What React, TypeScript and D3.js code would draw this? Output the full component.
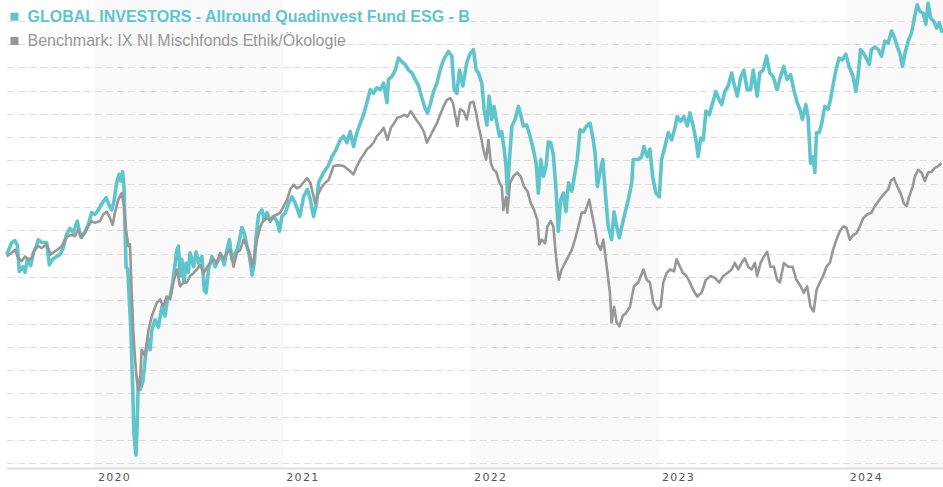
import * as d3 from "d3";
import React, { RefObject, useEffect, useRef } from "react";

const fundName = "GLOBAL INVESTORS - Allround Quadinvest Fund ESG - B";
const benchName = "Benchmark: IX NI Mischfonds Ethik/Ökologie";
const yearLabels = ["2020", "2021", "2022", "2023", "2024"];
const shadedYears = [2020, 2022, 2024];
const gridValues = d3.range(77.5, 125.01, 2.5);
const startYear = 2019.537;
const endYear = 2024.511;

// [decimal year, indexed value]
const fund: [number, number][] = [
  [2019.530, 99.9], [2019.557, 101.2], [2019.574, 101.4], [2019.587, 100.9], [2019.597, 98.1], [2019.615, 98.6],
  [2019.628, 98.0], [2019.640, 99.4], [2019.658, 98.7], [2019.672, 100.1], [2019.686, 100.6], [2019.698, 101.5],
  [2019.716, 101.2], [2019.743, 101.2], [2019.757, 98.8], [2019.775, 99.4], [2019.796, 99.7], [2019.814, 99.9],
  [2019.831, 100.6], [2019.849, 102.1], [2019.867, 102.7], [2019.885, 102.3], [2019.906, 103.5], [2019.924, 101.8],
  [2019.947, 102.3], [2019.964, 103.1], [2019.982, 104.4], [2020.000, 104.2], [2020.018, 104.7], [2020.032, 105.2],
  [2020.044, 105.6], [2020.059, 106.0], [2020.071, 105.4], [2020.089, 104.7], [2020.101, 105.6], [2020.115, 107.6],
  [2020.128, 108.5], [2020.137, 107.8], [2020.147, 108.8], [2020.154, 107.2], [2020.165, 98.6], [2020.174, 98.3],
  [2020.190, 92.2], [2020.201, 85.1], [2020.207, 80.8], [2020.213, 79.3], [2020.218, 78.4], [2020.225, 82.2],
  [2020.230, 86.5], [2020.239, 85.4], [2020.254, 86.2], [2020.266, 88.6], [2020.275, 90.1], [2020.284, 90.8],
  [2020.293, 89.7], [2020.302, 91.8], [2020.319, 92.9], [2020.337, 92.1], [2020.355, 94.3], [2020.372, 93.3],
  [2020.385, 95.1], [2020.399, 95.4], [2020.413, 96.9], [2020.426, 99.0], [2020.435, 100.4], [2020.443, 100.8],
  [2020.452, 97.6], [2020.461, 99.4], [2020.473, 96.9], [2020.484, 99.0], [2020.496, 98.0], [2020.505, 100.1],
  [2020.523, 98.6], [2020.537, 100.2], [2020.549, 99.0], [2020.568, 99.7], [2020.580, 96.1], [2020.590, 95.8],
  [2020.603, 98.3], [2020.621, 99.7], [2020.638, 98.6], [2020.656, 99.4], [2020.674, 99.7], [2020.686, 98.8],
  [2020.701, 100.4], [2020.714, 101.5], [2020.727, 99.4], [2020.739, 99.9], [2020.754, 100.4], [2020.768, 101.5],
  [2020.780, 102.8], [2020.793, 102.2], [2020.807, 100.8], [2020.821, 99.7], [2020.834, 97.7], [2020.846, 99.0],
  [2020.856, 101.9], [2020.869, 104.2], [2020.887, 104.7], [2020.899, 103.6], [2020.913, 104.4], [2020.931, 103.5],
  [2020.948, 104.0], [2020.966, 103.5], [2020.980, 102.4], [2020.993, 104.0], [2021.011, 104.4], [2021.028, 105.4],
  [2021.046, 106.1], [2021.064, 105.4], [2021.088, 104.0], [2021.108, 106.1], [2021.128, 106.9], [2021.144, 105.8],
  [2021.161, 104.0], [2021.176, 105.3], [2021.188, 107.6], [2021.214, 108.7], [2021.239, 109.4], [2021.259, 110.4],
  [2021.277, 111.0], [2021.303, 112.2], [2021.321, 112.6], [2021.339, 111.9], [2021.356, 113.1], [2021.374, 111.5],
  [2021.392, 113.0], [2021.410, 114.0], [2021.427, 114.9], [2021.445, 116.2], [2021.463, 117.6], [2021.480, 117.2],
  [2021.498, 117.8], [2021.516, 117.6], [2021.534, 118.3], [2021.552, 116.2], [2021.560, 118.7], [2021.578, 119.0],
  [2021.596, 119.7], [2021.613, 121.0], [2021.631, 120.6], [2021.649, 120.3], [2021.667, 119.7], [2021.685, 119.4],
  [2021.702, 118.7], [2021.720, 118.0], [2021.738, 116.7], [2021.755, 115.6], [2021.768, 115.1], [2021.782, 116.0],
  [2021.800, 117.4], [2021.818, 118.3], [2021.835, 119.7], [2021.853, 120.8], [2021.879, 121.7], [2021.897, 121.2],
  [2021.910, 117.6], [2021.924, 117.2], [2021.938, 119.7], [2021.956, 118.0], [2021.977, 120.5], [2021.995, 121.5],
  [2022.012, 121.9], [2022.027, 119.7], [2022.039, 119.4], [2022.057, 118.3], [2022.069, 115.5], [2022.084, 113.8],
  [2022.096, 116.9], [2022.110, 114.4], [2022.122, 115.8], [2022.137, 114.0], [2022.151, 112.6], [2022.163, 113.1],
  [2022.176, 111.2], [2022.186, 109.4], [2022.193, 106.5], [2022.204, 110.1], [2022.217, 113.7], [2022.234, 114.4],
  [2022.252, 115.8], [2022.264, 114.9], [2022.278, 113.7], [2022.296, 113.8], [2022.314, 112.6], [2022.331, 111.2],
  [2022.346, 109.7], [2022.358, 106.5], [2022.371, 110.1], [2022.385, 108.3], [2022.399, 109.4], [2022.411, 112.0],
  [2022.424, 111.9], [2022.438, 110.6], [2022.452, 106.9], [2022.464, 102.4], [2022.477, 105.8], [2022.491, 106.5],
  [2022.505, 104.5], [2022.518, 107.6], [2022.536, 106.7], [2022.553, 108.7], [2022.565, 110.1], [2022.580, 113.3],
  [2022.597, 113.1], [2022.615, 113.7], [2022.633, 114.0], [2022.647, 112.6], [2022.660, 110.8], [2022.672, 107.2],
  [2022.686, 108.7], [2022.701, 110.1], [2022.713, 106.9], [2022.730, 102.9], [2022.748, 101.5], [2022.761, 104.5],
  [2022.775, 102.9], [2022.789, 101.7], [2022.810, 103.6], [2022.837, 105.8], [2022.855, 107.6], [2022.863, 110.1],
  [2022.890, 110.1], [2022.908, 110.4], [2022.920, 111.5], [2022.938, 110.4], [2022.952, 111.2], [2022.966, 108.3],
  [2022.984, 106.5], [2023.002, 106.1], [2023.014, 110.1], [2023.032, 111.5], [2023.050, 113.0], [2023.068, 112.2],
  [2023.085, 113.5], [2023.097, 114.7], [2023.115, 114.2], [2023.133, 114.7], [2023.151, 113.7], [2023.165, 115.1],
  [2023.182, 113.7], [2023.197, 112.2], [2023.209, 110.4], [2023.222, 112.4], [2023.236, 112.2], [2023.250, 115.3],
  [2023.268, 114.9], [2023.286, 116.2], [2023.303, 117.4], [2023.321, 116.5], [2023.334, 116.0], [2023.351, 117.4],
  [2023.369, 118.0], [2023.387, 119.4], [2023.399, 118.3], [2023.417, 116.9], [2023.435, 118.9], [2023.452, 119.7],
  [2023.470, 117.6], [2023.488, 117.6], [2023.502, 119.7], [2023.523, 116.9], [2023.537, 119.4], [2023.555, 119.7],
  [2023.573, 121.2], [2023.590, 119.4], [2023.608, 119.0], [2023.629, 117.6], [2023.647, 119.0], [2023.665, 120.1],
  [2023.682, 118.7], [2023.701, 119.2], [2023.718, 117.6], [2023.736, 116.2], [2023.750, 115.5], [2023.764, 114.4],
  [2023.782, 116.0], [2023.794, 114.7], [2023.807, 109.7], [2023.821, 110.4], [2023.830, 108.7], [2023.839, 113.0],
  [2023.853, 113.0], [2023.865, 113.8], [2023.883, 115.8], [2023.901, 115.5], [2023.913, 116.5], [2023.927, 118.1],
  [2023.941, 119.6], [2023.959, 121.0], [2023.977, 120.8], [2023.995, 121.4], [2024.012, 120.1], [2024.034, 119.0],
  [2024.048, 117.4], [2024.060, 119.0], [2024.073, 121.9], [2024.090, 121.5], [2024.108, 120.8], [2024.119, 120.3],
  [2024.131, 121.9], [2024.149, 122.2], [2024.167, 121.9], [2024.185, 121.2], [2024.202, 122.8], [2024.220, 122.6],
  [2024.238, 123.9], [2024.255, 123.1], [2024.268, 122.2], [2024.282, 121.5], [2024.296, 120.1], [2024.309, 121.5],
  [2024.326, 122.8], [2024.344, 123.7], [2024.362, 125.6], [2024.374, 126.7], [2024.388, 126.0], [2024.406, 125.8],
  [2024.420, 124.6], [2024.432, 126.9], [2024.445, 125.3], [2024.463, 124.9], [2024.477, 124.2], [2024.491, 124.8],
  [2024.507, 123.7],
];

const bench: [number, number][] = [
  [2019.530, 99.7], [2019.557, 100.1], [2019.574, 100.4], [2019.592, 99.5], [2019.610, 99.2], [2019.628, 99.7],
  [2019.645, 99.4], [2019.663, 99.5], [2019.681, 100.6], [2019.698, 100.8], [2019.716, 100.6], [2019.743, 101.0],
  [2019.764, 99.9], [2019.782, 100.2], [2019.805, 100.5], [2019.823, 100.8], [2019.840, 101.5], [2019.858, 101.9],
  [2019.876, 102.0], [2019.894, 101.9], [2019.911, 102.6], [2019.929, 101.7], [2019.947, 102.3], [2019.964, 102.9],
  [2019.982, 103.5], [2020.000, 103.3], [2020.027, 103.5], [2020.044, 104.2], [2020.062, 104.5], [2020.076, 104.0],
  [2020.094, 103.1], [2020.106, 104.4], [2020.124, 105.8], [2020.142, 106.5], [2020.154, 105.1], [2020.165, 102.6],
  [2020.177, 100.8], [2020.186, 101.0], [2020.195, 95.8], [2020.204, 91.5], [2020.213, 88.6], [2020.222, 86.5],
  [2020.230, 85.4], [2020.239, 86.1], [2020.248, 89.7], [2020.266, 89.0], [2020.284, 91.8], [2020.302, 93.3],
  [2020.328, 94.7], [2020.346, 95.1], [2020.363, 94.3], [2020.381, 95.4], [2020.399, 95.1], [2020.416, 96.9],
  [2020.435, 98.3], [2020.452, 96.5], [2020.470, 96.9], [2020.488, 96.9], [2020.505, 97.6], [2020.523, 97.9],
  [2020.541, 98.3], [2020.559, 98.8], [2020.576, 97.9], [2020.594, 98.5], [2020.612, 99.0], [2020.629, 99.4],
  [2020.647, 99.0], [2020.665, 100.1], [2020.682, 99.4], [2020.701, 100.1], [2020.718, 100.4], [2020.736, 98.6],
  [2020.754, 100.1], [2020.771, 100.4], [2020.789, 101.5], [2020.807, 100.8], [2020.821, 100.1], [2020.834, 98.6],
  [2020.846, 99.7], [2020.860, 101.5], [2020.878, 102.9], [2020.895, 103.6], [2020.913, 103.8], [2020.931, 103.6],
  [2020.948, 104.0], [2020.966, 104.2], [2020.984, 104.4], [2021.002, 105.1], [2021.020, 105.8], [2021.037, 106.9],
  [2021.055, 107.4], [2021.073, 107.0], [2021.090, 107.2], [2021.126, 108.1], [2021.144, 107.6], [2021.170, 105.4],
  [2021.188, 106.5], [2021.206, 107.2], [2021.223, 107.6], [2021.241, 107.9], [2021.268, 109.4], [2021.294, 109.5],
  [2021.321, 109.4], [2021.347, 109.0], [2021.374, 108.5], [2021.392, 109.4], [2021.410, 110.1], [2021.427, 110.6],
  [2021.445, 111.2], [2021.463, 111.5], [2021.480, 111.9], [2021.498, 112.6], [2021.516, 113.0], [2021.534, 113.5],
  [2021.555, 112.2], [2021.573, 113.5], [2021.590, 114.0], [2021.608, 114.6], [2021.626, 114.7], [2021.644, 114.9],
  [2021.661, 114.7], [2021.679, 115.3], [2021.697, 114.7], [2021.714, 114.2], [2021.732, 113.7], [2021.750, 113.0],
  [2021.764, 111.9], [2021.782, 112.6], [2021.800, 113.3], [2021.818, 114.0], [2021.835, 114.9], [2021.853, 115.8],
  [2021.871, 116.5], [2021.888, 116.7], [2021.903, 116.2], [2021.915, 114.9], [2021.927, 113.7], [2021.941, 115.5],
  [2021.959, 115.3], [2021.977, 114.4], [2021.995, 116.2], [2022.012, 116.3], [2022.027, 115.1], [2022.039, 113.7],
  [2022.052, 112.6], [2022.065, 111.2], [2022.080, 110.1], [2022.092, 112.2], [2022.105, 109.7], [2022.119, 109.0],
  [2022.133, 108.8], [2022.151, 107.6], [2022.163, 107.2], [2022.172, 104.7], [2022.186, 106.1], [2022.193, 104.4],
  [2022.207, 107.6], [2022.225, 108.3], [2022.246, 108.7], [2022.264, 108.3], [2022.282, 107.2], [2022.300, 106.7],
  [2022.318, 105.4], [2022.335, 104.7], [2022.353, 103.6], [2022.363, 101.0], [2022.376, 101.5], [2022.394, 101.1],
  [2022.406, 102.9], [2022.424, 103.5], [2022.438, 102.9], [2022.452, 99.7], [2022.467, 97.2], [2022.482, 98.3],
  [2022.500, 99.0], [2022.518, 99.7], [2022.536, 100.4], [2022.553, 101.5], [2022.571, 102.9], [2022.589, 104.4],
  [2022.606, 104.4], [2022.629, 105.8], [2022.642, 104.4], [2022.660, 102.6], [2022.672, 101.1], [2022.690, 100.4],
  [2022.704, 101.5], [2022.722, 98.6], [2022.739, 95.8], [2022.748, 92.6], [2022.761, 94.3], [2022.775, 92.6],
  [2022.789, 92.2], [2022.807, 93.3], [2022.824, 93.6], [2022.846, 94.3], [2022.867, 96.5], [2022.890, 96.9],
  [2022.917, 98.3], [2022.935, 97.2], [2022.952, 96.9], [2022.970, 94.7], [2022.991, 94.0], [2023.009, 94.3],
  [2023.023, 96.9], [2023.041, 97.9], [2023.059, 98.3], [2023.080, 98.1], [2023.094, 99.4], [2023.112, 98.6],
  [2023.129, 97.9], [2023.147, 97.6], [2023.165, 96.9], [2023.182, 96.1], [2023.204, 95.4], [2023.227, 95.8],
  [2023.250, 97.2], [2023.275, 97.6], [2023.298, 97.4], [2023.321, 96.9], [2023.342, 97.6], [2023.363, 97.9],
  [2023.387, 98.3], [2023.404, 99.0], [2023.422, 98.3], [2023.440, 99.0], [2023.457, 99.5], [2023.475, 98.6],
  [2023.493, 98.3], [2023.511, 99.0], [2023.523, 97.6], [2023.541, 99.0], [2023.559, 99.7], [2023.576, 100.2],
  [2023.594, 98.6], [2023.612, 98.6], [2023.629, 97.2], [2023.644, 96.9], [2023.665, 99.0], [2023.688, 98.6],
  [2023.711, 98.6], [2023.732, 97.2], [2023.754, 96.5], [2023.771, 95.8], [2023.789, 96.5], [2023.807, 94.3],
  [2023.824, 93.8], [2023.839, 96.1], [2023.856, 96.9], [2023.874, 97.6], [2023.892, 98.6], [2023.910, 99.0],
  [2023.927, 100.4], [2023.945, 101.5], [2023.963, 102.4], [2023.980, 102.9], [2023.998, 102.8], [2024.016, 101.5],
  [2024.034, 102.0], [2024.052, 102.2], [2024.069, 102.9], [2024.087, 103.8], [2024.108, 104.2], [2024.131, 104.4],
  [2024.149, 105.1], [2024.167, 105.6], [2024.185, 106.1], [2024.202, 106.5], [2024.220, 106.9], [2024.234, 107.8],
  [2024.250, 108.1], [2024.268, 107.2], [2024.286, 106.5], [2024.303, 105.4], [2024.318, 105.1], [2024.331, 106.1],
  [2024.350, 107.2], [2024.362, 108.3], [2024.379, 109.0], [2024.397, 108.7], [2024.415, 107.8], [2024.432, 108.7],
  [2024.451, 108.8], [2024.468, 109.2], [2024.486, 109.4], [2024.504, 109.7],
];

const toDate = (t: number) => {
  const y = Math.floor(t);
  const a = Date.UTC(y, 0, 1);
  const b = Date.UTC(y + 1, 0, 1);
  return new Date(a + (t - y) * (b - a));
};

const width = 943;
const height = 487;
const fundColor = "#5ec5cd";
const benchColor = "#979797";

const App = () => {
  const d3Ref: RefObject<SVGSVGElement> = useRef(null);

  useEffect(() => {
    document.body.style.margin = "0";
    const svg = d3.select(d3Ref.current);
    svg.selectAll("*").remove();

    const left = 8;
    const axisY = 468.5;
    const x = d3.scaleUtc().domain([toDate(startYear), toDate(endYear)]).range([left, width]);
    const y = d3.scaleLinear().domain([77.5, 125]).range([463.3, 20.7]);

    // alternating year bands
    svg
      .append("g")
      .selectAll("rect")
      .data(shadedYears)
      .enter()
      .append("rect")
      .attr("x", (d) => x(new Date(Date.UTC(d, 0, 1))))
      .attr("y", 0)
      .attr("width", (d) => Math.min(x(new Date(Date.UTC(d + 1, 0, 1))), width) - x(new Date(Date.UTC(d, 0, 1))))
      .attr("height", axisY)
      .attr("fill", "#f9f9f9");

    // dashed grid
    svg
      .append("g")
      .selectAll("line")
      .data(gridValues)
      .enter()
      .append("line")
      .attr("x1", left - 1)
      .attr("x2", width)
      .attr("y1", (d) => Math.round(y(d)) + 0.5)
      .attr("y2", (d) => Math.round(y(d)) + 0.5)
      .attr("stroke", "#dcdcdc")
      .attr("stroke-dasharray", "7,4");

    svg
      .append("line")
      .attr("x1", left - 1)
      .attr("x2", width)
      .attr("y1", axisY)
      .attr("y2", axisY)
      .attr("stroke", "#dedede")
      .attr("stroke-width", 2);

    svg
      .append("g")
      .selectAll("text")
      .data(yearLabels)
      .enter()
      .append("text")
      .attr("x", (d) => x(new Date(Date.UTC(+d, 0, 1))) + 3)
      .attr("y", 480.7)
      .attr("font-family", "DejaVu Sans, sans-serif")
      .attr("font-size", 11)
      .attr("letter-spacing", 1.3)
      .attr("fill", "#555")
      .text((d) => d);

    const line = d3
      .line<[number, number]>()
      .x((d) => x(toDate(d[0])))
      .y((d) => y(d[1]));

    svg
      .append("path")
      .datum(fund)
      .attr("fill", "none")
      .attr("stroke", fundColor)
      .attr("stroke-width", 3.6)
      .attr("stroke-linejoin", "round")
      .attr("d", line);

    svg
      .append("path")
      .datum(bench)
      .attr("fill", "none")
      .attr("stroke", benchColor)
      .attr("stroke-width", 2.6)
      .attr("stroke-linejoin", "round")
      .attr("d", line);

    // legend
    const legend = svg.append("g").attr("font-family", "Liberation Sans, Arial, sans-serif").attr("font-size", 16);
    legend.append("rect").attr("x", 10.5).attr("y", 12.7).attr("width", 8).attr("height", 8).attr("fill", fundColor);
    legend
      .append("text")
      .attr("x", 27.5)
      .attr("y", 21.8)
      .attr("font-weight", "bold")
      .attr("fill", fundColor)
      .text(fundName);
    legend.append("rect").attr("x", 10.5).attr("y", 37).attr("width", 8).attr("height", 8).attr("fill", benchColor);
    legend.append("text").attr("x", 27.5).attr("y", 45.7).attr("fill", benchColor).text(benchName);
  }, [d3Ref]);

  return <svg ref={d3Ref} width={width} height={height} style={{ display: "block" }} />;
};

export default App;
